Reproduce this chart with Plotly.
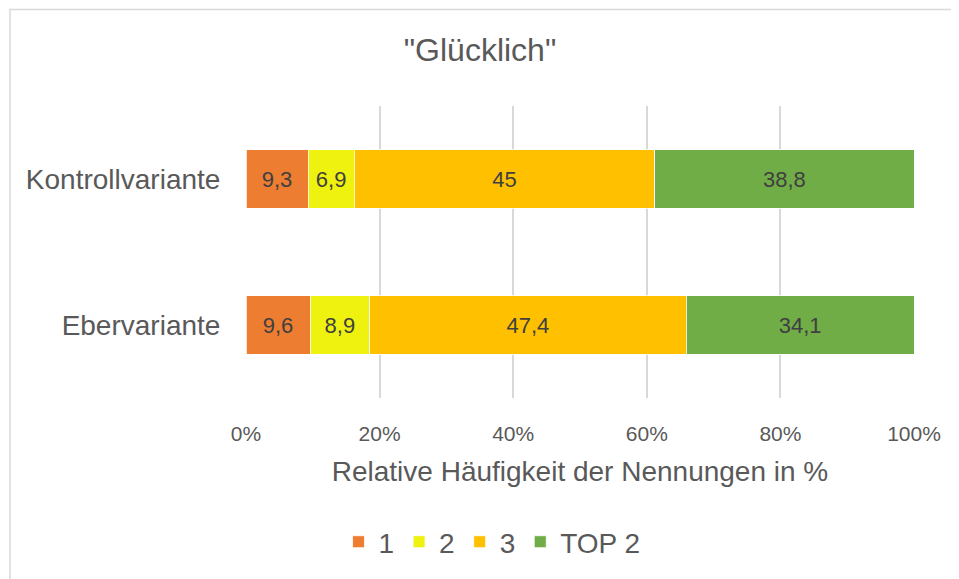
import plotly.graph_objects as go

categories = ["Ebervariante", "Kontrollvariante"]
series_names = ["1", "2", "3", "TOP 2"]
values_1 = [9.6, 9.3]
values_2 = [8.9, 6.9]
values_3 = [47.4, 45.0]
values_top2 = [34.1, 38.8]
tick_vals = [0, 20, 40, 60, 80, 100]
tick_text = ["0%", "20%", "40%", "60%", "80%", "100%"]

colors = ["#ED7D31", "#EEF20E", "#FFC000", "#70AD47"]
series = [values_1, values_2, values_3, values_top2]

# page is offset by the 8px body margin, so work in figure coords = page - 8
W, H = 951, 571
L, R, T, B = 238, 45, 98, 179
pw, ph = W - L - R, H - T - B

SANS = "Liberation Sans, Arial, sans-serif"
GREY = "#595959"

def fmt(v):
    s = ("%.1f" % v).rstrip("0").rstrip(".")
    return s.replace(".", ",")

fig = go.Figure()
for name, vals, col in zip(series_names, series, colors):
    fig.add_trace(go.Bar(
        y=categories, x=vals, name=name, orientation="h",
        marker=dict(color=col, line=dict(color="white", width=0.8)),
        text=[fmt(v) for v in vals], textposition="inside",
        insidetextanchor="middle",
        textfont=dict(family=SANS, size=22, color="#404040"),
        width=0.4,
    ))

def px_x(x): return (x - L) / pw
def px_y(y): return 1 - (y - T) / ph

# outer chart border (top and left)
fig.add_shape(type="line", xref="paper", yref="paper",
              x0=px_x(2), x1=px_x(W + 5), y0=px_y(0.75), y1=px_y(0.75),
              line=dict(color="#d9d9d9", width=1.5))
fig.add_shape(type="line", xref="paper", yref="paper",
              x0=px_x(2), x1=px_x(2), y0=px_y(0), y1=px_y(H + 5),
              line=dict(color="#d9d9d9", width=1.5))

fig.update_layout(
    width=W, height=H,
    margin=dict(l=L, r=R, t=T, b=B),
    barmode="stack",
    plot_bgcolor="white", paper_bgcolor="white",
    title=dict(text='"Glücklich"', x=472 / W, xanchor="center",
               y=1 - 42 / H, yanchor="middle",
               font=dict(family=SANS, size=32, color=GREY)),
    xaxis=dict(range=[0, 100], tickvals=tick_vals, ticktext=tick_text,
               showgrid=True, gridcolor="#d9d9d9", gridwidth=1.5,
               zeroline=False, showline=False,
               ticks="outside", ticklen=17, tickcolor="rgba(0,0,0,0)",
               tickfont=dict(family=SANS, size=21, color=GREY),
               title=dict(text="Relative Häufigkeit der Nennungen in %", standoff=17,
                          font=dict(family=SANS, size=28, color=GREY))),
    yaxis=dict(categoryorder="array", categoryarray=categories,
               showgrid=False, zeroline=False, showline=False,
               ticks="outside", ticklen=19, tickcolor="rgba(0,0,0,0)",
               tickfont=dict(family=SANS, size=28, color=GREY)),
    legend=dict(orientation="h", x=px_x(484), xanchor="center",
                y=px_y(537), yanchor="middle", traceorder="normal",
                font=dict(family=SANS, size=28, color=GREY),
                itemwidth=30, tracegroupgap=0),
    showlegend=True,
)

fig.write_html("out.html")
